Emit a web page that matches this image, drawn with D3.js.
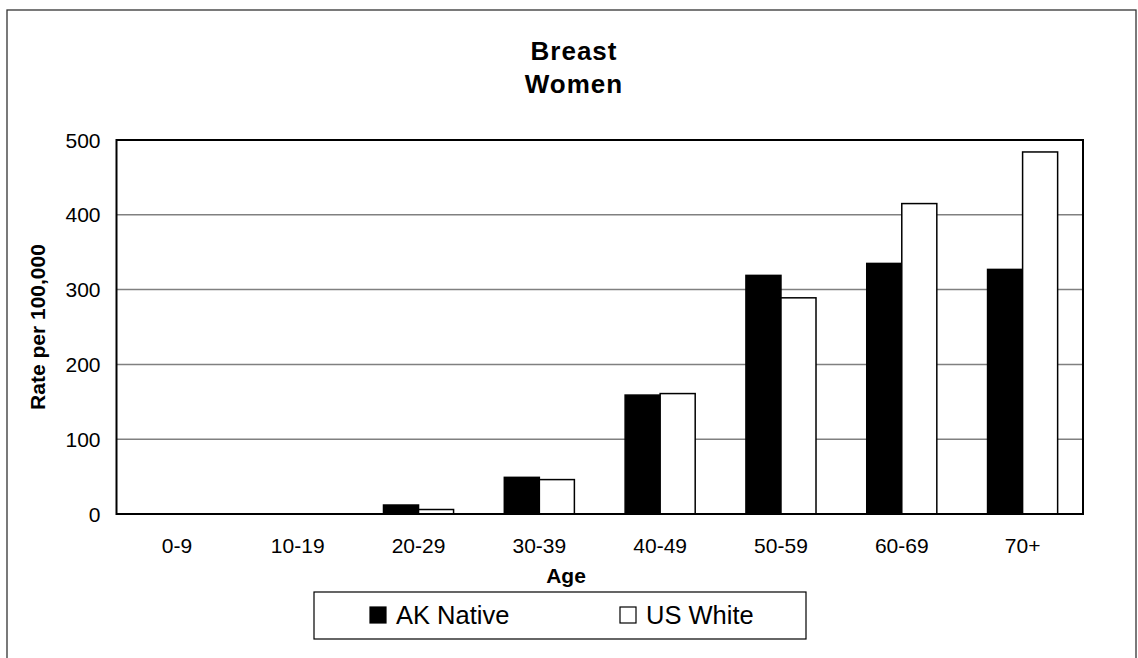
<!DOCTYPE html>
<html>
<head>
<meta charset="utf-8">
<script src="https://cdn.jsdelivr.net/npm/d3@7"></script>
<style>
  body { margin: 0; background: #fff; }
  svg { display: block; font-family: Arial, "Liberation Sans", sans-serif; }
</style>
</head>
<body>
<svg id="chart" width="1138" height="658"></svg>
<script>
// data
const categories = ["0-9", "10-19", "20-29", "30-39", "40-49", "50-59", "60-69", "70+"];
const seriesNames = ["AK Native", "US White"];
const akNative = [0, 0, 12, 49, 159, 319, 335, 327];
const usWhite = [0, 0, 6, 46, 161, 289, 415, 484];
const yTicks = [0, 100, 200, 300, 400, 500];

const svg = d3.select("#chart");
const margin = { top: 140, left: 116.5, right: 1083, bottom: 514 };

const fills = d3.scaleOrdinal().domain(seriesNames).range(["#000", "#fff"]);

const x = d3.scaleBand()
    .domain(categories)
    .range([margin.left, margin.right]);

const groupW = x.bandwidth() * 0.58;
const x1 = d3.scaleBand()
    .domain(seriesNames)
    .range([(x.bandwidth() - groupW) / 2, (x.bandwidth() + groupW) / 2]);

const y = d3.scaleLinear()
    .domain([0, 500])
    .range([margin.bottom, margin.top]);

// outer frame
svg.append("rect")
    .attr("x", 7).attr("y", 10)
    .attr("width", 1129).attr("height", 700)
    .attr("fill", "none")
    .attr("stroke", "#333")
    .attr("stroke-width", 1.3);

// titles
svg.selectAll(".title")
    .data(["Breast", "Women"])
    .enter()
    .append("text")
    .attr("class", "title")
    .attr("x", 574)
    .attr("y", (d, i) => 60 + i * 33)
    .attr("text-anchor", "middle")
    .attr("font-size", 26).attr("font-weight", "bold")
    .attr("letter-spacing", 1)
    .text(d => d);

// gridlines
svg.append("g")
    .selectAll("line")
    .data(yTicks.slice(1, -1))
    .enter()
    .append("line")
    .attr("x1", margin.left).attr("x2", margin.right)
    .attr("y1", d => y(d)).attr("y2", d => y(d))
    .attr("stroke", "#808080")
    .attr("stroke-width", 1.5);

// y axis labels
const yAxis = svg.append("g")
    .attr("transform", "translate(" + (margin.left - 16) + ",0)")
    .call(d3.axisLeft(y).tickValues(yTicks).tickSize(0).tickPadding(0));
yAxis.select(".domain").remove();
yAxis.selectAll("text")
    .attr("font-size", 21)
    .attr("font-family", "Arial, 'Liberation Sans', sans-serif")
    .attr("fill", "#000")
    .attr("dy", "0.34em");

// x axis labels
const xAxis = svg.append("g")
    .attr("transform", "translate(0," + margin.bottom + ")")
    .call(d3.axisBottom(x).tickSize(0).tickPadding(0));
xAxis.select(".domain").remove();
xAxis.selectAll("text")
    .attr("font-size", 21)
    .attr("font-family", "Arial, 'Liberation Sans', sans-serif")
    .attr("fill", "#000")
    .attr("dy", null)
    .attr("y", 39);

// bars
const rows = categories.map((c, i) => ({ cat: c, values: [akNative[i], usWhite[i]] }));
const groups = svg.append("g")
    .selectAll("g")
    .data(rows)
    .enter()
    .append("g")
    .attr("transform", d => "translate(" + x(d.cat) + ",0)");

groups.selectAll("rect")
    .data(d => d.values.filter(v => v > 0).length ? d.values.map((v, j) => ({ name: seriesNames[j], v })) : [])
    .enter()
    .append("rect")
    .attr("x", d => x1(d.name))
    .attr("y", d => y(d.v))
    .attr("width", x1.bandwidth())
    .attr("height", d => y(0) - y(d.v))
    .attr("fill", d => fills(d.name))
    .attr("stroke", "#000")
    .attr("stroke-width", 1.5);

// plot border
svg.append("rect")
    .attr("x", margin.left).attr("y", margin.top)
    .attr("width", margin.right - margin.left)
    .attr("height", margin.bottom - margin.top)
    .attr("fill", "none")
    .attr("stroke", "#000")
    .attr("stroke-width", 2);

// axis titles
svg.append("text")
    .attr("transform", "translate(45," + ((margin.top + margin.bottom) / 2) + ") rotate(-90)")
    .attr("text-anchor", "middle")
    .attr("font-size", 21).attr("font-weight", "bold")
    .text("Rate per 100,000");
svg.append("text")
    .attr("x", 566).attr("y", 583)
    .attr("text-anchor", "middle")
    .attr("font-size", 21).attr("font-weight", "bold")
    .text("Age");

// legend
const legend = svg.append("g");
legend.append("rect")
    .attr("x", 314).attr("y", 592)
    .attr("width", 492).attr("height", 47)
    .attr("fill", "#fff")
    .attr("stroke", "#000")
    .attr("stroke-width", 1.2);

const legendX = [370, 620];
const item = legend.selectAll("g")
    .data(seriesNames)
    .enter()
    .append("g")
    .attr("transform", (d, i) => "translate(" + legendX[i] + ",607)");
item.append("rect")
    .attr("width", 16).attr("height", 16)
    .attr("fill", d => fills(d))
    .attr("stroke", "#000")
    .attr("stroke-width", 1.2);
item.append("text")
    .attr("x", 26).attr("y", 17)
    .attr("font-size", 25.5)
    .text(d => d);
</script>
</body>
</html>
